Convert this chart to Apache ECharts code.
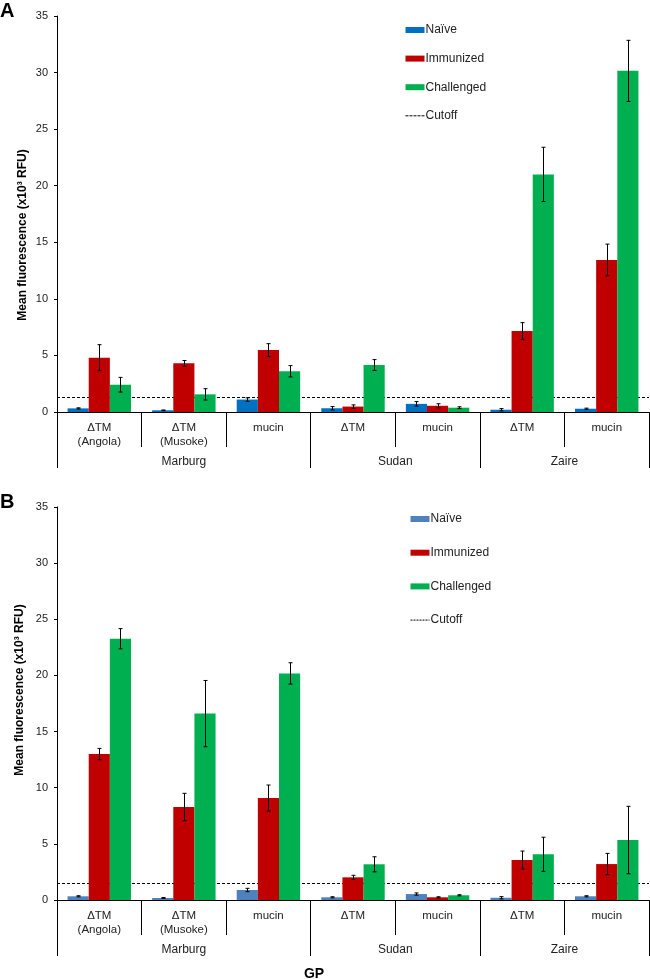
<!DOCTYPE html>
<html>
<head>
<meta charset="utf-8">
<script src="https://cdn.jsdelivr.net/npm/echarts@6/dist/echarts.min.js"></script>
<style>
html,body{margin:0;padding:0;background:#fff;}
#chart{width:650px;height:979px;}
</style>
</head>
<body>
<div id="chart"></div>
<script>
// ---- data ----
const categories = ['ΔTM\n(Angola)', 'ΔTM\n(Musoke)', 'mucin', 'ΔTM', 'mucin', 'ΔTM', 'mucin'];
const groups = ['Marburg', 'Sudan', 'Zaire'];
const groupSizes = [3, 2, 2];
const seriesNames = ['Naïve', 'Immunized', 'Challenged'];
const yTicks = [0, 5, 10, 15, 20, 25, 30, 35];

// Panel A
const naiveA = [0.32, 0.15, 1.10, 0.33, 0.72, 0.20, 0.29];
const naiveErrA = [0.05, 0.03, 0.15, 0.15, 0.20, 0.10, 0.05];
const immA = [4.80, 4.30, 5.47, 0.48, 0.55, 7.15, 13.44];
const immErrA = [1.15, 0.25, 0.57, 0.15, 0.18, 0.75, 1.40];
const chalA = [2.41, 1.56, 3.60, 4.15, 0.38, 21.0, 30.15];
const chalErrA = [0.65, 0.50, 0.50, 0.48, 0.08, 2.40, 2.70];
const cutoffA = 1.27;

// Panel B
const naiveB = [0.33, 0.18, 0.89, 0.24, 0.53, 0.20, 0.33];
const naiveErrB = [0.05, 0.04, 0.15, 0.05, 0.10, 0.10, 0.05];
const immB = [13.0, 8.28, 9.08, 2.02, 0.24, 3.56, 3.20];
const immErrB = [0.50, 1.22, 1.16, 0.18, 0.05, 0.80, 0.95];
const chalB = [23.27, 16.6, 20.18, 3.18, 0.42, 4.07, 5.34];
const chalErrB = [0.90, 2.95, 0.95, 0.67, 0.05, 1.52, 3.00];
const cutoffB = 1.45;

// ---- styles ----
const colorsA = ['#0070C0', '#C00000', '#00B050'];
const colorsB = ['#4F81BD', '#C00000', '#00B050'];
const TXT = '#222';
const FONT = 'Liberation Sans, Arial, sans-serif';
const CAT_GAP = 0.25;

// group boundaries / centres derived from group sizes
const groupBounds = [0];
groupSizes.forEach(s => groupBounds.push(groupBounds[groupBounds.length - 1] + s));
const groupCenters = groups.map((g, i) => (groupBounds[i] + groupBounds[i + 1]) / 2);

const grids = [
  {left: 57, right: 1, top: 16, height: 396},
  {left: 57, right: 1, top: 507, height: 393}
];

function xAxesFor(gi) {
  return [
    {
      type: 'category', gridIndex: gi, data: categories, position: 'bottom',
      axisLine: {show: true, lineStyle: {color: '#000', width: 1}},
      axisTick: {show: true, interval: 0, alignWithLabel: false, length: 35, lineStyle: {color: '#000'}},
      axisLabel: {interval: 0, margin: 9, color: TXT, fontFamily: FONT, fontSize: 11.5, lineHeight: 14},
      splitLine: {show: false}
    },
    {
      type: 'value', gridIndex: gi, min: 0, max: categories.length, position: 'bottom',
      axisLine: {show: false},
      axisTick: {show: true, customValues: groupBounds, length: 56, lineStyle: {color: '#000'}},
      axisLabel: {
        customValues: groupCenters, margin: 43, color: TXT, fontFamily: FONT, fontSize: 12, lineHeight: 14,
        formatter: v => { const i = groupCenters.indexOf(v); return i >= 0 ? groups[i] : ''; }
      },
      splitLine: {show: false}
    }
  ];
}

function yAxisFor(gi) {
  return {
    type: 'value', gridIndex: gi, min: yTicks[0], max: yTicks[yTicks.length - 1], interval: yTicks[1] - yTicks[0],
    axisLine: {show: true, lineStyle: {color: '#000', width: 1}},
    axisTick: {show: true, length: 3, lineStyle: {color: '#000'}},
    axisLabel: {margin: 9, color: TXT, fontFamily: FONT, fontSize: 11},
    splitLine: {show: false}
  };
}

function errSeries(gi, k, vals, errs) {
  return {
    type: 'custom', xAxisIndex: gi * 2, yAxisIndex: gi, z: 5, silent: true,
    data: vals.map((v, i) => [i, v - errs[i], v + errs[i]]),
    encode: {x: 0, y: [1, 2]},
    renderItem: function (params, api) {
      const x = api.value(0), lo = api.value(1), hi = api.value(2);
      const band = api.size([1, 0])[0];
      const bw = band * (1 - CAT_GAP) / 3;
      const pLo = api.coord([x, lo]);
      const pHi = api.coord([x, hi]);
      const cx = Math.round(pLo[0] + (k - 1) * bw) + 0.5;
      const cap = 2;
      const st = {stroke: '#000', lineWidth: 1};
      return {
        type: 'group',
        children: [
          {type: 'line', shape: {x1: cx, y1: pHi[1], x2: cx, y2: pLo[1]}, style: st},
          {type: 'line', shape: {x1: cx - cap, y1: pHi[1], x2: cx + cap, y2: pHi[1]}, style: st},
          {type: 'line', shape: {x1: cx - cap, y1: pLo[1], x2: cx + cap, y2: pLo[1]}, style: st}
        ]
      };
    }
  };
}

function panelSeries(gi, vals, errs, colors, cutoff, dash) {
  const out = [];
  vals.forEach((v, k) => {
    out.push({
      type: 'bar', name: seriesNames[k], xAxisIndex: gi * 2, yAxisIndex: gi, data: v, z: 3,
      barGap: '0%', barCategoryGap: (CAT_GAP * 100) + '%',
      itemStyle: {color: colors[k]}, silent: true
    });
  });
  vals.forEach((v, k) => out.push(errSeries(gi, k, v, errs[k])));
  out.push({
    type: 'line', name: 'Cutoff', xAxisIndex: gi * 2, yAxisIndex: gi, data: [], z: 1,
    symbol: 'none', showSymbol: false, itemStyle: {color: '#000'},
    lineStyle: {color: '#000', width: 1, type: dash},
    markLine: {
      silent: true, symbol: 'none', label: {show: false}, z: 1,
      lineStyle: {color: '#000', width: 1, type: [3, 2]},
      data: [{yAxis: cutoff}]
    }
  });
  return out;
}

function legendFor(top, gap, left, colors, dash) {
  return {
    orient: 'vertical', left: left, top: top, itemGap: gap, itemWidth: 19, itemHeight: 6,
    textStyle: {color: TXT, fontFamily: FONT, fontSize: 12, lineHeight: 14, padding: [0, 0, 0, -4]},
    selectedMode: false,
    data: [
      {name: seriesNames[0], icon: 'rect', itemStyle: {color: colors[0]}},
      {name: seriesNames[1], icon: 'rect', itemStyle: {color: colors[1]}},
      {name: seriesNames[2], icon: 'rect', itemStyle: {color: colors[2]}},
      {name: 'Cutoff', itemStyle: {opacity: 0}, lineStyle: {width: 1, color: '#000', type: dash}}
    ]
  };
}

const chart = echarts.init(document.getElementById('chart'), null, {renderer: 'canvas'});
const option = {
  animation: false,
  backgroundColor: '#fff',
  grid: grids,
  xAxis: [...xAxesFor(0), ...xAxesFor(1)],
  yAxis: [yAxisFor(0), yAxisFor(1)],
  legend: [
    legendFor(18, 14.6, 400, colorsA, [3, 1]),
    legendFor(507, 19.7, 405, colorsB, [2, 1])
  ],
  series: [
    ...panelSeries(0, [naiveA, immA, chalA], [naiveErrA, immErrA, chalErrA], colorsA, cutoffA, [3, 1]),
    ...panelSeries(1, [naiveB, immB, chalB], [naiveErrB, immErrB, chalErrB], colorsB, cutoffB, [2, 1])
  ],
  graphic: [
    {type: 'text', left: 0, top: 1, style: {text: 'A', font: 'bold 20px ' + FONT, fill: '#000'}},
    {type: 'text', left: 0, top: 492, style: {text: 'B', font: 'bold 20px ' + FONT, fill: '#000'}},
    {type: 'text', x: 23, y: 235, rotation: Math.PI / 2,
      style: {text: 'Mean fluorescence (x10³ RFU)', font: 'bold 12px ' + FONT, fill: '#000', align: 'center', verticalAlign: 'middle'}},
    {type: 'text', x: 20, y: 690, rotation: Math.PI / 2,
      style: {text: 'Mean fluorescence (x10³ RFU)', font: 'bold 12px ' + FONT, fill: '#000', align: 'center', verticalAlign: 'middle'}},
    {type: 'text', x: 314, y: 974,
      style: {text: 'GP', font: 'bold 14px ' + FONT, fill: '#000', align: 'center', verticalAlign: 'middle'}}
  ]
};
chart.setOption(option);
</script>
</body>
</html>
